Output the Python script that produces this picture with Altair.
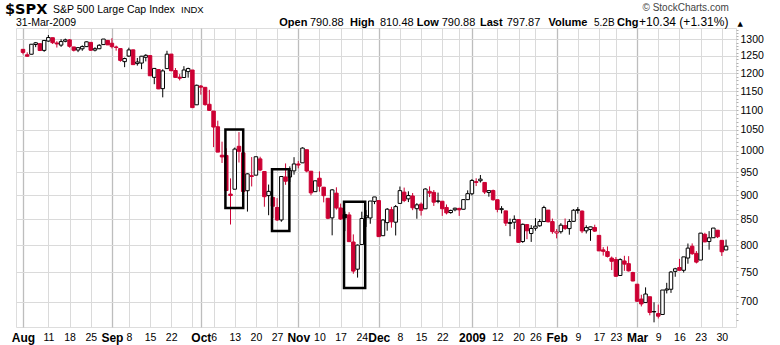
import altair as alt
import pandas as pd

# ---- daily OHLC, 1 Aug 2008 .. 31 Mar 2009 (trading days) ----
open_ = [
    # Aug
    1269.42,1253.27,1254.87,1283.99,1286.51,1266.29,1294.42,1304.79,1288.64,1282.11,
    1293.85,1298.14,1276.65,1267.34,1271.07,1277.59,1290.47,1267.03,1271.29,1283.79,1296.49,
    # Sep
    1287.83,1276.61,1271.80,1233.21,1249.50,1267.98,1227.50,1229.04,1245.88,1250.92,
    1188.31,1210.34,1157.08,1213.11,1255.37,1207.61,1188.79,1187.87,1204.47,1209.07,1113.78,
    # Oct
    1164.17,1160.64,1115.16,1097.56,1057.60,988.91,988.42,902.31,912.75,1009.97,
    994.60,909.53,942.29,943.51,980.40,951.67,899.08,895.22,874.28,848.92,939.51,939.38,953.11,
    # Nov
    968.67,971.31,1001.84,952.40,907.44,936.75,917.15,893.39,853.13,904.36,
    873.23,860.00,859.03,805.87,755.84,801.20,853.40,852.90,886.89,
    # Dec
    888.61,817.94,843.60,869.75,844.43,882.71,906.48,892.17,898.35,871.79,
    881.07,871.53,908.16,905.98,886.96,887.20,874.31,863.87,869.51,872.37,870.58,890.59,
    # Jan
    902.99,929.17,931.17,927.45,905.73,909.91,890.40,869.79,867.28,841.99,
    844.45,849.64,806.77,839.74,822.16,832.50,837.30,845.73,868.89,845.69,
    # Feb
    823.09,825.69,837.77,831.75,846.09,868.24,866.87,827.41,829.91,833.95,
    818.61,791.06,787.91,775.87,773.25,744.69,770.64,765.76,749.93,
    # Mar
    729.57,704.44,698.60,708.27,684.04,680.76,679.28,719.59,720.89,751.97,
    758.84,753.88,776.01,797.92,784.58,772.31,820.60,806.81,814.06,828.68,809.07,790.88,
]
high = [
    1270.52,1260.49,1284.88,1291.67,1286.51,1297.85,1313.15,1304.79,1294.03,1300.11,
    1302.05,1300.22,1276.65,1276.01,1281.40,1293.09,1290.47,1275.65,1285.05,1300.68,1297.59,
    1303.04,1280.60,1271.80,1244.94,1274.42,1268.66,1243.90,1249.98,1255.09,1250.92,
    1214.84,1210.34,1211.14,1265.12,1255.37,1214.76,1197.41,1220.03,1215.77,1209.07,1168.03,
    1167.03,1160.64,1153.82,1097.56,1072.91,1021.06,1005.25,936.36,1006.93,1044.31,
    994.60,947.71,984.64,985.40,985.44,951.67,922.83,896.30,893.78,940.51,969.97,963.23,984.38,
    975.57,1007.51,1001.84,952.40,931.46,951.95,917.15,893.39,913.01,916.88,
    882.29,865.90,864.57,820.52,801.20,865.60,868.94,887.68,896.25,
    888.61,850.54,873.12,875.60,879.42,918.57,916.26,908.27,904.63,883.24,
    884.63,914.66,918.85,911.02,905.47,887.37,880.44,869.79,873.74,873.70,891.12,910.32,
    934.73,936.63,943.85,927.45,910.00,911.93,890.40,877.02,867.28,851.59,
    858.13,849.64,841.72,839.74,838.61,852.53,850.45,877.86,868.89,851.66,
    830.78,842.60,851.85,850.55,870.75,875.01,868.05,838.22,835.48,839.43,
    818.61,796.17,797.58,778.69,777.85,775.49,780.12,779.42,751.27,
    729.57,711.67,724.12,708.27,699.09,695.27,719.60,731.92,752.63,758.29,
    774.53,778.12,803.04,803.24,788.91,823.37,823.65,826.78,832.98,828.68,809.07,810.48,
]
low = [
    1254.54,1247.45,1254.67,1276.00,1264.29,1262.11,1292.17,1285.64,1274.86,1276.84,
    1290.74,1274.51,1263.11,1261.16,1265.22,1277.59,1264.87,1263.21,1270.03,1283.79,1282.74,
    1272.20,1265.59,1232.83,1217.23,1247.12,1224.51,1221.60,1211.54,1233.81,1192.70,
    1169.28,1155.88,1133.50,1213.11,1205.61,1187.66,1179.79,1187.87,1187.54,1106.42,1113.78,
    1140.77,1111.43,1098.14,1007.97,996.23,970.97,909.19,839.80,912.75,972.07,
    903.99,865.83,918.74,943.51,952.47,875.81,858.44,852.85,846.75,845.27,922.26,928.50,944.59,
    958.82,971.31,949.86,899.73,906.90,907.47,884.90,850.48,818.69,869.88,
    848.98,826.84,806.18,747.78,741.02,801.20,834.99,841.37,881.21,
    815.69,817.94,827.60,833.60,818.41,882.71,885.38,885.45,868.73,851.35,
    857.72,871.53,895.94,877.44,883.02,857.09,860.10,861.44,866.52,857.07,870.58,889.67,
    899.35,919.53,927.28,902.37,896.81,888.31,864.32,862.02,836.93,817.04,
    830.66,804.47,804.30,811.29,806.07,827.69,835.40,845.73,844.15,821.67,
    812.87,821.98,829.18,819.91,845.42,861.65,822.99,822.30,808.06,825.21,
    789.17,780.43,777.03,754.25,742.37,744.69,752.89,751.75,734.52,
    699.70,692.30,698.60,677.93,666.79,672.88,679.28,713.85,714.76,742.46,
    753.37,749.93,765.64,781.82,766.20,772.31,805.48,791.37,814.06,813.43,779.81,790.88,
]
close = [
    1260.31,1249.01,1284.88,1289.19,1266.07,1296.32,1305.32,1289.59,1285.83,1292.93,
    1298.20,1278.60,1266.69,1274.54,1277.72,1292.20,1266.84,1271.51,1281.66,1300.68,1282.83,
    1277.58,1274.98,1236.83,1242.31,1267.79,1224.51,1232.04,1249.05,1251.70,1192.70,
    1213.60,1156.39,1206.51,1255.08,1207.09,1188.22,1185.87,1209.18,1213.27,1106.42,1166.36,
    1161.06,1114.28,1099.23,1056.89,996.23,984.94,909.92,899.22,1003.35,998.01,
    907.84,946.43,940.55,985.40,955.05,896.78,908.11,876.77,848.92,940.51,930.09,954.09,968.75,
    966.30,1005.75,952.77,904.88,930.99,919.21,898.95,852.30,911.29,873.29,
    850.75,853.00,806.58,752.44,800.03,851.81,857.39,887.68,896.24,
    816.21,848.81,870.74,845.22,876.07,909.70,888.67,899.24,873.59,879.73,
    868.57,913.18,904.42,885.28,887.88,871.63,863.16,868.15,872.80,869.42,890.64,903.25,
    931.80,927.45,934.70,906.65,909.73,890.35,870.26,871.79,842.62,843.74,
    850.12,805.22,840.24,827.50,831.95,836.57,845.71,874.09,845.14,825.88,
    825.44,838.51,832.23,845.85,868.60,869.89,827.16,833.74,835.19,826.84,
    789.17,788.42,778.94,770.05,743.33,773.14,764.90,752.83,735.09,
    700.82,696.33,712.87,682.55,683.38,676.53,719.60,721.36,750.74,756.55,
    753.89,778.12,794.35,784.04,768.54,822.92,806.12,813.88,832.86,815.94,787.53,797.87,
]
prev_close_first = 1267.38  # close of 31 Jul 2008

# x-axis (trading-day index) ticks
tick_idx = [0, 6, 11, 16, 21, 25, 30, 35, 40, 42, 45, 50, 55, 60, 65, 70, 75, 80, 84, 89,
            94, 99, 103, 106, 112, 117, 121, 126, 131, 136, 140, 145, 150, 155, 160, 165]
tick_lbl = ["Aug", "11", "18", "25", "Sep", "8", "15", "22", "", "Oct", "6", "13", "20", "27",
            "Nov", "10", "17", "24", "Dec", "8", "15", "22", "", "2009", "12", "20", "26",
            "Feb", "9", "17", "23", "Mar", "9", "16", "23", "30"]
month_idx = [0, 21, 42, 65, 84, 106, 126, 145]

# y-axis ticks
y_minor = list(range(670, 1331, 10))

# annotation boxes (trading-day index / price)
box_x1 = [47.8, 58.8, 75.8]
box_x2 = [52.0, 62.9, 80.8]
box_lo = [873, 827, 723]
box_hi = [1051, 957, 886]

RED = "#cc0033"
BLACK = "#000000"

n = len(close)
prev = [prev_close_first] + close[:-1]
col = [BLACK if close[k] >= prev[k] else RED for k in range(n)]
fill = [col[k] if close[k] < open_[k] else "#ffffff" for k in range(n)]
df = pd.DataFrame({
    "i": list(range(n)), "o": open_, "h": high, "l": low, "c": close,
    "lo": [min(a, b) for a, b in zip(open_, close)],
    "hi": [max(a, b) for a, b in zip(open_, close)],
    "col": col, "fill": fill,
})

xscale = alt.Scale(domain=[-0.466, 167.17], nice=False, zero=False)
yscale = alt.Scale(type="log", domain=[659.5, 1335], nice=False, zero=False)

lbl_expr = "[" + ",".join("'" + s + "'" for s in tick_lbl) + "][indexof([" + \
    ",".join(str(v) for v in tick_idx) + "], datum.value)]"
month_test = "indexof([" + ",".join(str(v) for v in month_idx) + "], datum.value) >= 0"

x_axis = alt.Axis(
    values=tick_idx, labelExpr=lbl_expr, grid=True,
    gridColor={"condition": {"test": month_test, "value": "#bdbdbd"}, "value": "#dadada"},
    gridWidth={"condition": {"test": month_test, "value": 1.3}, "value": 1},
    ticks=False, domain=False, labelOverlap=False, labelFlush=False, labelBound=False,
    labelPadding=5, labelColor="#000000", labelFont="Liberation Sans",
    labelFontSize={"condition": {"test": month_test, "value": 12}, "value": 10.5},
    labelFontWeight={"condition": {"test": month_test, "value": "bold"}, "value": "normal"},
    title=None,
)
y_axis = alt.Axis(
    orient="right", values=y_minor,
    labelExpr="datum.value % 50 == 0 ? format(datum.value, 'd') : ''",
    grid=True, gridColor="#dadada",
    gridOpacity={"condition": {"test": "datum.value % 50 == 0", "value": 1}, "value": 0},
    tickSize=2, tickColor="#b0b0b0", domain=False, labelOverlap=False, labelFlush=False,
    labelPadding=2, labelColor="#000000", labelFont="Liberation Sans", labelFontSize=10.5,
    title=None,
)

base = alt.Chart(df)

wicks = base.mark_rule(strokeWidth=1).encode(
    x=alt.X("i:Q", scale=xscale, axis=x_axis),
    y=alt.Y("l:Q", scale=yscale, axis=y_axis),
    y2="h:Q",
    color=alt.Color("col:N", scale=None),
)
bodies = base.mark_bar(size=3.5, strokeWidth=1).encode(
    x=alt.X("i:Q", scale=xscale, axis=x_axis),
    y=alt.Y("lo:Q", scale=yscale, axis=y_axis),
    y2="hi:Q",
    fill=alt.Fill("fill:N", scale=None),
    stroke=alt.Stroke("col:N", scale=None),
)
boxes = alt.Chart(pd.DataFrame({"x1": box_x1, "x2": box_x2, "lo": box_lo, "hi": box_hi})).mark_rect(
    fillOpacity=0, stroke="#000000", strokeWidth=2.5
).encode(
    x=alt.X("x1:Q", scale=xscale, axis=x_axis), x2="x2:Q",
    y=alt.Y("lo:Q", scale=yscale, axis=y_axis), y2="hi:Q",
)

one = alt.Data(values=[{}])
FONT = "Liberation Sans"


def txt(s, x, y, size, weight="normal", color="#000000", font=FONT):
    return alt.Chart(one).mark_text(
        text=s, x=x, y=y, align="left", baseline="alphabetic", fontSize=size,
        fontWeight=weight, color=color, font=font
    )


header = [
    txt("$SPX", -11, -14.5, 14.5, "bold", font="DejaVu Sans"),
    txt("S&P 500 Large Cap Index", 37, -15, 10.5),
    txt("INDX", 165, -15, 9.5),
    txt("31-Mar-2009", 0, -2, 10.5),
    txt("\u00a9 StockCharts.com", 626.5, -17, 10, color="#444444"),
    txt("Open", 263.3, -2, 11, "bold"),
    txt("790.88", 294, -2, 11),
    txt("High", 334, -2, 11, "bold"),
    txt("810.48", 364, -2, 11),
    txt("Low", 400.7, -2, 11, "bold"),
    txt("790.88", 425.7, -2, 11),
    txt("Last", 464, -2, 11, "bold"),
    txt("797.87", 490.7, -2, 11),
    txt("Volume", 532.5, -2, 11, "bold"),
    txt("5.2B", 578, -2, 10),
    txt("Chg", 601, -2, 11, "bold"),
    txt("+10.34 (+1.31%)", 623, -2, 12),
    txt("\u25b2", 721.5, -2.5, 7, font="DejaVu Sans"),
]

chart = alt.layer(wicks, bodies, boxes, *header).properties(
    width=720, height=299,
    padding={"left": 16, "top": 28, "right": 44, "bottom": 18},
    autosize=alt.AutoSizeParams(type="none"),
).configure_view(stroke="#a8a8a8", strokeWidth=1).configure(background="#ffffff")

chart.save("out.html", embed_options={"renderer": "svg", "actions": False})
